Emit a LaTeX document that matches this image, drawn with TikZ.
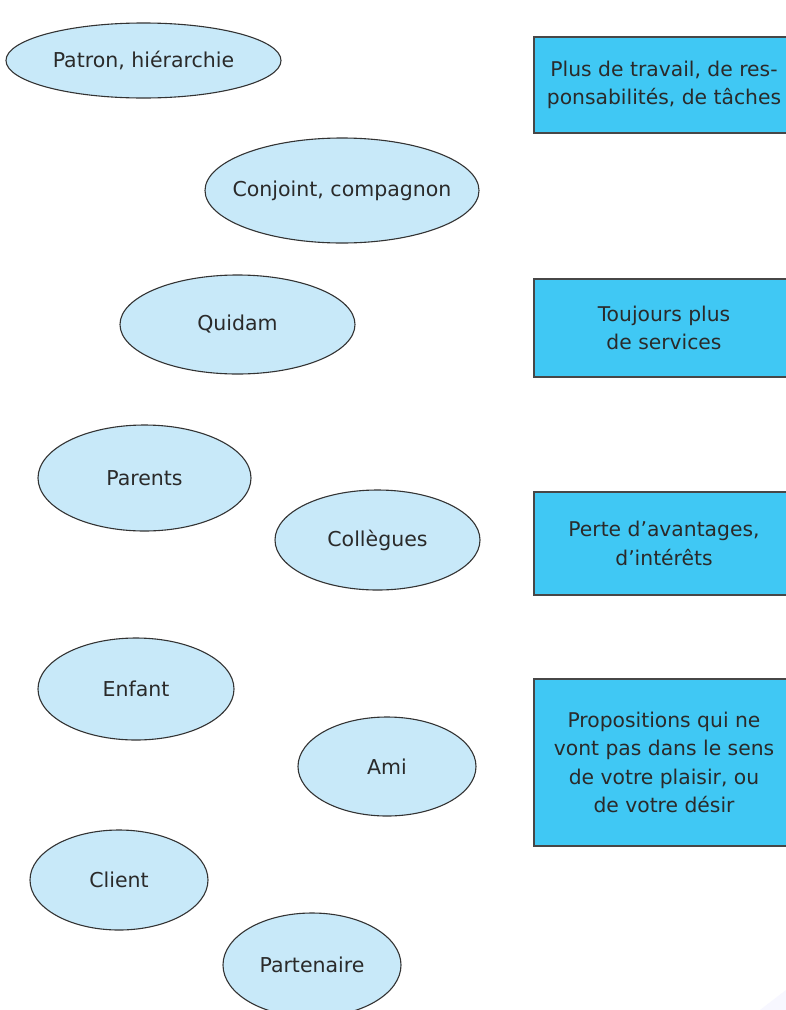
\documentclass[tikz,border=0pt]{standalone}
\usepackage{fontspec}
\setmainfont{DejaVu Sans}
\usetikzlibrary{shapes.geometric}
\definecolor{ellfill}{HTML}{C8E9F9}
\definecolor{boxfill}{HTML}{40C8F4}
\definecolor{txt}{HTML}{2A2A2A}
\definecolor{edge}{HTML}{333333}
\newcommand{\zw}[1]{\makebox[0pt]{#1}}
\tikzset{
  oval/.style={ellipse, draw=edge, line width=1.1pt, fill=ellfill, inner sep=0pt,
    text=txt, font=\fontsize{20.5}{28}\selectfont},
  infobox/.style={rectangle, draw=edge!90, line width=1.5pt, fill=boxfill, inner sep=0pt,
    text=txt, align=center, font=\fontsize{20.3}{28.5}\selectfont}
}
\begin{document}
\begin{tikzpicture}[x=1pt,y=-1pt]
\useasboundingbox (0,0) rectangle (786,1010);
\clip (0,0) rectangle (786,1010);
\fill[white] (0,0) rectangle (786,1010);
\fill[blue!3] (786,990) -- (786,1010) -- (760,1010) -- cycle;
% ellipses
\node[oval, minimum width=275pt, minimum height=75pt] (patron) at (143.5,60.5) {\zw{Patron, hiérarchie}};
\node[oval, minimum width=274pt, minimum height=105pt] (conjoint) at (342,190.5) {\zw{Conjoint, compagnon}};
\node[oval, minimum width=235pt, minimum height=99pt] (quidam) at (237.5,324.5) {\zw{Quidam}};
\node[oval, minimum width=213pt, minimum height=106pt] (parents) at (144.5,478) {\zw{Parents}};
\node[oval, minimum width=205pt, minimum height=100pt] (collegues) at (377.5,540) {\zw{Collègues}};
\node[oval, minimum width=196pt, minimum height=102pt] (enfant) at (136,689) {\zw{Enfant}};
\node[oval, minimum width=178pt, minimum height=99pt] (ami) at (387,766.5) {\zw{Ami}};
\node[oval, minimum width=178pt, minimum height=100pt] (client) at (119,880) {\zw{Client}};
\node[oval, minimum width=178pt, minimum height=104pt] (partenaire) at (312,965) {\zw{Partenaire}};
% boxes
\node[infobox, minimum width=260pt, minimum height=96pt] (b1) at (664,85) {Plus de travail, de res-\\ponsabilités, de tâches};
\node[infobox, minimum width=260pt, minimum height=98pt] (b2) at (664,328) {Toujours plus\\de services};
\node[infobox, minimum width=260pt, minimum height=103pt] (b3) at (664,543.5) {Perte d’avantages,\\d’intérêts};
\node[infobox, minimum width=260pt, minimum height=167pt] (b4) at (664,762.5) {Propositions qui ne\\vont pas dans le sens\\de votre plaisir, ou\\de votre désir};
\end{tikzpicture}
\end{document}
